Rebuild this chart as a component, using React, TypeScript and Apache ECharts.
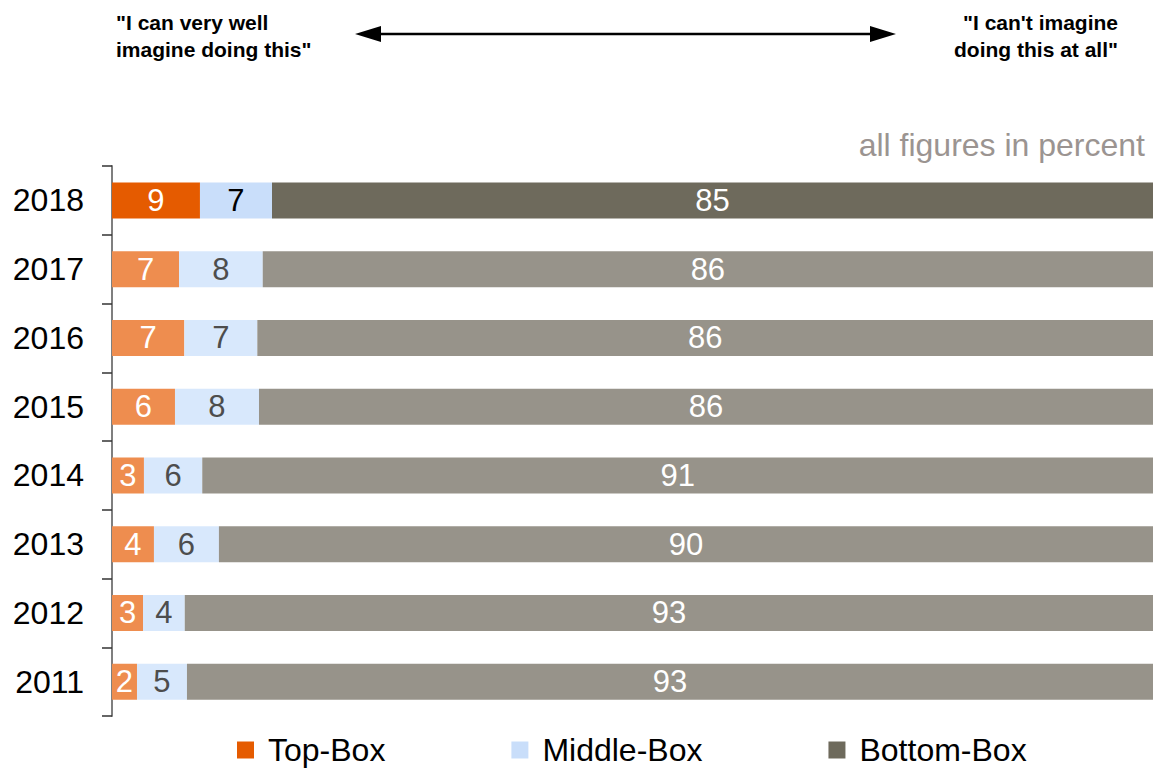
import React, { useEffect, useRef } from "react";
import * as echarts from "echarts";

// Categories (top to bottom)
const years = ["2018", "2017", "2016", "2015", "2014", "2013", "2012", "2011"];

// Bar lengths (percent of full width)
const topBox = [8.45, 6.44, 6.95, 6.05, 3.07, 4.03, 2.98, 2.4];
const middleBox = [6.92, 8.04, 7.01, 8.07, 5.6, 6.24, 4.01, 4.8];
const bottomBox = [84.63, 85.52, 86.04, 85.88, 91.33, 89.73, 93.01, 92.8];

// Printed (rounded) labels
const topLabels = [9, 7, 7, 6, 3, 4, 3, 2];
const middleLabels = [7, 8, 7, 8, 6, 6, 4, 5];
const bottomLabels = [85, 86, 86, 86, 91, 90, 93, 93];

const seriesNames = ["Top-Box", "Middle-Box", "Bottom-Box"];
const headerLeft = ['"I can very well', 'imagine doing this"'];
const headerRight = ["\"I can't imagine", 'doing this at all"'];
const noteText = "all figures in percent";

const FONT = "'Liberation Sans', Arial, sans-serif";

const darkColors = ["#E55B00", "#C9DEFA", "#6E6A5C"];
const lightColors = ["#EE8D4F", "#D8E8FC", "#97938A"];
const darkLabelColors = ["#FFFFFF", "#000000", "#FFFFFF"];
const lightLabelColors = ["#FFFFFF", "#4D4D4D", "#FFFFFF"];

export default function App() {
  const ref = useRef<HTMLDivElement>(null);

  useEffect(() => {
    if (!ref.current) return;
    const chart = echarts.init(ref.current, undefined, { renderer: "svg" });

    const values = [topBox, middleBox, bottomBox];
    const labels = [topLabels, middleLabels, bottomLabels];

    const series = seriesNames.map((name, s) => ({
      name,
      type: "bar",
      stack: "total",
      barWidth: 36,
      itemStyle: { color: darkColors[s] },
      data: values[s].map((v, i) => ({
        value: v,
        itemStyle: { color: i === 0 ? darkColors[s] : lightColors[s] },
        label: {
          show: true,
          position: "inside",
          formatter: String(labels[s][i]),
          color: i === 0 ? darkLabelColors[s] : lightLabelColors[s],
          fontSize: 31,
          fontFamily: FONT,
        },
      })),
    }));

    chart.setOption({
      animation: false,
      backgroundColor: "#FFFFFF",
      textStyle: { fontFamily: FONT },
      title: {
        text: noteText,
        right: 8,
        top: 129,
        padding: 0,
        textStyle: {
          fontSize: 32,
          fontWeight: "normal",
          color: "#9B9491",
          fontFamily: FONT,
        },
      },
      legend: {
        left: 237,
        top: 733,
        itemWidth: 17,
        itemHeight: 17,
        itemGap: 126,
        icon: "rect",
        padding: 0,
        data: seriesNames,
        textStyle: {
          fontSize: 32,
          lineHeight: 34,
          color: "#000000",
          fontFamily: FONT,
          padding: [0, 0, 0, 9],
        },
      },
      grid: { left: 112, right: 0, top: 166, bottom: 52, containLabel: false },
      xAxis: {
        type: "value",
        min: 0,
        max: 100,
        show: false,
      },
      yAxis: {
        type: "category",
        inverse: true,
        data: years,
        axisLine: { show: true, lineStyle: { color: "#7F7F7F", width: 2 } },
        axisTick: { show: true, length: 10, lineStyle: { color: "#333333", width: 1.5 } },
        axisLabel: { fontSize: 32, color: "#000000", margin: 28, fontFamily: FONT },
      },
      graphic: [
        {
          type: "text",
          x: 116,
          y: 9,
          style: {
            text: headerLeft.join("\n"),
            font: `bold 21px ${FONT}`,
            fill: "#000000",
            lineHeight: 27,
            align: "left",
            verticalAlign: "top",
          },
        },
        {
          type: "text",
          x: 1118,
          y: 9,
          style: {
            text: headerRight.join("\n"),
            font: `bold 21px ${FONT}`,
            fill: "#000000",
            lineHeight: 27,
            align: "right",
            verticalAlign: "top",
          },
        },
        {
          type: "line",
          shape: { x1: 378, y1: 34, x2: 872, y2: 34 },
          style: { stroke: "#000000", lineWidth: 2.5 },
        },
        {
          type: "polygon",
          shape: { points: [[355, 34], [381, 26], [381, 42]] },
          style: { fill: "#000000" },
        },
        {
          type: "polygon",
          shape: { points: [[896, 34], [870, 26], [870, 42]] },
          style: { fill: "#000000" },
        },
      ],
      series,
    });

    return () => chart.dispose();
  }, []);

  return <div ref={ref} style={{ width: 1153, height: 768, position: "absolute", left: 0, top: 0 }} />;
}
